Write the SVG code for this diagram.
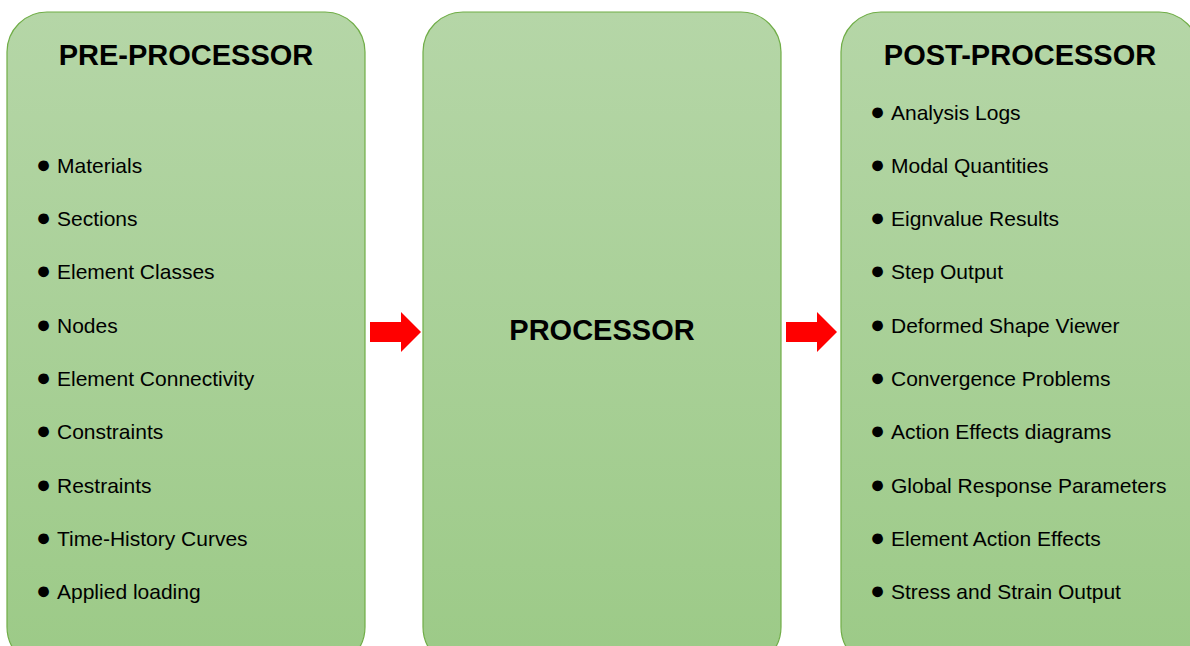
<svg xmlns="http://www.w3.org/2000/svg" width="1190" height="646" viewBox="0 0 1190 646">
<defs>
<linearGradient id="g" x1="0" y1="0" x2="0" y2="1">
<stop offset="0" stop-color="#b5d6a7"/>
<stop offset="1" stop-color="#9cca87"/>
</linearGradient>
<style>
.box{fill:url(#g);stroke:#70ad47;stroke-width:1.2}
.title{font-family:"Liberation Sans",Arial,sans-serif;font-weight:bold;font-size:29px;fill:#000;text-anchor:middle}
.item{font-family:"Liberation Sans",Arial,sans-serif;font-size:21px;fill:#000}
.b{font-size:25px}
.arrow{fill:#ff0000}
</style>
</defs>
<rect width="1190" height="646" fill="#fff"/>
<g id="pre-processor">
<rect class="box" x="7" y="12" width="358" height="655" rx="40" ry="40"/>
<text class="title" x="186" y="65">PRE-PROCESSOR</text>
<text class="item" y="173"><tspan class="b" x="36">●</tspan><tspan x="57">Materials</tspan></text>
<text class="item" y="226"><tspan class="b" x="36">●</tspan><tspan x="57">Sections</tspan></text>
<text class="item" y="279"><tspan class="b" x="36">●</tspan><tspan x="57">Element Classes</tspan></text>
<text class="item" y="333"><tspan class="b" x="36">●</tspan><tspan x="57">Nodes</tspan></text>
<text class="item" y="386"><tspan class="b" x="36">●</tspan><tspan x="57">Element Connectivity</tspan></text>
<text class="item" y="439"><tspan class="b" x="36">●</tspan><tspan x="57">Constraints</tspan></text>
<text class="item" y="493"><tspan class="b" x="36">●</tspan><tspan x="57">Restraints</tspan></text>
<text class="item" y="546"><tspan class="b" x="36">●</tspan><tspan x="57">Time-History Curves</tspan></text>
<text class="item" y="599"><tspan class="b" x="36">●</tspan><tspan x="57">Applied loading</tspan></text>
</g>
<g id="processor">
<rect class="box" x="423" y="12" width="358" height="655" rx="40" ry="40"/>
<text class="title" x="602" y="340">PROCESSOR</text>
</g>
<g id="post-processor">
<rect class="box" x="841" y="12" width="358" height="655" rx="40" ry="40"/>
<text class="title" x="1020" y="65">POST-PROCESSOR</text>
<text class="item" y="120"><tspan class="b" x="870">●</tspan><tspan x="891">Analysis Logs</tspan></text>
<text class="item" y="173"><tspan class="b" x="870">●</tspan><tspan x="891">Modal Quantities</tspan></text>
<text class="item" y="226"><tspan class="b" x="870">●</tspan><tspan x="891">Eignvalue Results</tspan></text>
<text class="item" y="279"><tspan class="b" x="870">●</tspan><tspan x="891">Step Output</tspan></text>
<text class="item" y="333"><tspan class="b" x="870">●</tspan><tspan x="891">Deformed Shape Viewer</tspan></text>
<text class="item" y="386"><tspan class="b" x="870">●</tspan><tspan x="891">Convergence Problems</tspan></text>
<text class="item" y="439"><tspan class="b" x="870">●</tspan><tspan x="891">Action Effects diagrams</tspan></text>
<text class="item" y="493"><tspan class="b" x="870">●</tspan><tspan x="891">Global Response Parameters</tspan></text>
<text class="item" y="546"><tspan class="b" x="870">●</tspan><tspan x="891">Element Action Effects</tspan></text>
<text class="item" y="599"><tspan class="b" x="870">●</tspan><tspan x="891">Stress and Strain Output</tspan></text>
</g>
<g id="connectors">
<polygon class="arrow" points="370,322 401,322 401,312 421,332 401,352 401,342 370,342"/>
<polygon class="arrow" points="786,322 817,322 817,312 837,332 817,352 817,342 786,342"/>
</g>
</svg>
